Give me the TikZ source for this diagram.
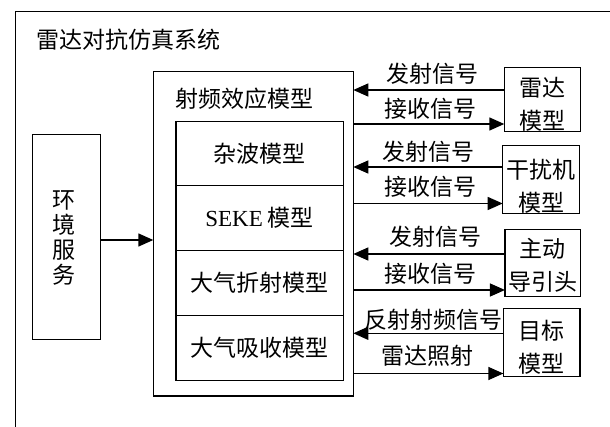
\documentclass[tikz,border=0pt]{standalone}
\usepackage{fontspec}
\setmainfont{Liberation Serif}
\newfontfamily\cjk{Noto Sans CJK SC}
\usetikzlibrary{arrows.meta}
\begin{document}
\begin{tikzpicture}[x=1pt,y=-1pt,
  box/.style={draw, line width=1.4pt, inner sep=0pt, outer sep=0pt, rectangle},
  txt/.style={font=\cjk\fontsize{23}{33}\selectfont, inner sep=0pt, align=center},
  envtxt/.style={font=\cjk\fontsize{23}{25}\selectfont, inner sep=0pt, align=center},
  arr/.style={line width=1.4pt, -{Triangle[length=15pt,width=13pt]}},
  frame/.style={line width=1.4pt}
]
\useasboundingbox (0,0) rectangle (610,427);
\begin{scope}
\clip (0,0) rectangle (610,427);
\coordinate (fbl) at (15.7,440);
\coordinate (ftl) at (15.7,11.7);
\coordinate (ftr) at (625,11.7);
\draw[frame] (fbl) -- (ftl) -- (ftr);
\end{scope}
\node[txt, anchor=west] (title) at (36.7,40) {雷达对抗仿真系统};

% environment service
\node[box, minimum width=68.4pt, minimum height=205.2pt] (env) at (66.5,236.9) {};
\node[envtxt] (envtxt) at (63.5,237.5) {环\\境\\服\\务};

% RF effect model
\node[box, minimum width=200pt, minimum height=324.7pt] (rf) at (253.3,233.65) {};
\node[txt] (rftitle) at (244,98.3) {射频效应模型};
\node[box, txt, minimum width=167.3pt, minimum height=64pt] (clutter) at (259.65,153.7) {杂波模型};
\node[box, txt, minimum width=167.3pt, minimum height=65pt] (seke) at (259.65,218.2) {{\rmfamily SEKE} 模型};
\node[box, txt, minimum width=167.3pt, minimum height=65pt] (refr) at (259.65,283.2) {大气折射模型};
\node[box, txt, minimum width=167.3pt, minimum height=65pt] (absorb) at (259.65,348.2) {大气吸收模型};

% right-hand models
\node[box, minimum width=76.4pt, minimum height=64.4pt] (radar) at (542.5,99.5) {};
\node[txt] (radartxt) at (542.5,104.2) {雷达\\模型};
\node[box, minimum width=76.6pt, minimum height=68pt] (jam) at (541,179.5) {};
\node[txt] (jamtxt) at (541,185.8) {干扰机\\模型};
\node[box, minimum width=75.7pt, minimum height=67.4pt] (seeker) at (542.8,263) {};
\node[txt] (seekertxt) at (542.8,265.7) {主动\\导引头};
\node[box, minimum width=76.7pt, minimum height=67.5pt] (target) at (541.7,342.5) {};
\node[txt] (targettxt) at (541.7,347.5) {目标\\模型};

% connectors
\draw[arr] (env.east |- 0,240) -- (rf.west |- 0,240);

\draw[arr] (radar.west |- 0,90) -- (rf.east |- 0,90);
\draw[arr] (rf.east |- 0,124) -- (radar.west |- 0,124);
\node[txt] (l1) at (432,74) {发射信号};
\node[txt] (l2) at (430,109) {接收信号};

\draw[arr] (jam.west |- 0,167) -- (rf.east |- 0,167);
\draw[arr] (rf.east |- 0,203.5) -- (jam.west |- 0,203.5);
\node[txt] (l3) at (428,152) {发射信号};
\node[txt] (l4) at (430,186.7) {接收信号};

\draw[arr] (seeker.west |- 0,254) -- (rf.east |- 0,254);
\draw[arr] (rf.east |- 0,290) -- (seeker.west |- 0,290);
\node[txt] (l5) at (435,236.7) {发射信号};
\node[txt] (l6) at (430,274) {接收信号};

\draw[arr] (target.west |- 0,333.3) -- (rf.east |- 0,333.3);
\draw[arr] (rf.east |- 0,373.5) -- (target.west |- 0,373.5);
\node[txt] (l7) at (433,320) {反射射频信号};
\node[txt] (l8) at (427.5,356) {雷达照射};
\end{tikzpicture}
\end{document}
